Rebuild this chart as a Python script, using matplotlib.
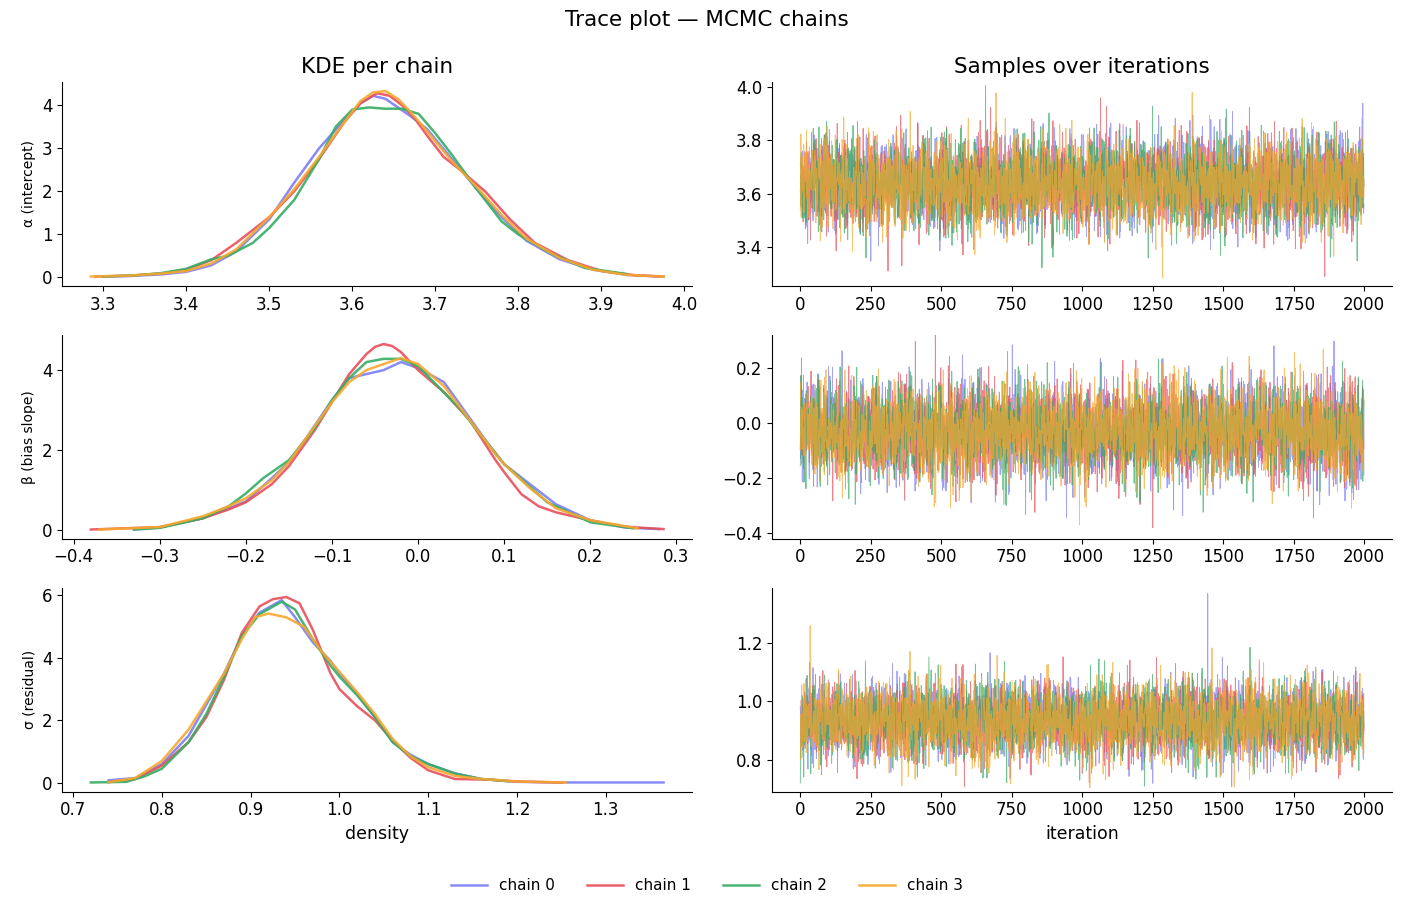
import numpy as np
import matplotlib
matplotlib.use("Agg")
import matplotlib.pyplot as plt

# --- chain colours / labels ---
chain_labels = ["chain 0", "chain 1", "chain 2", "chain 3"]
chain_colors = ["#7b7ff5", "#e8505b", "#36ad64", "#f7a82e"]
param_labels = ["α (intercept)", "β (bias slope)", "σ (residual)"]

# --- KDE curves: (x, density) per chain ---
alpha_kde_x = [
    [3.30, 3.33, 3.37, 3.40, 3.43, 3.46, 3.50, 3.53, 3.56, 3.59, 3.61, 3.625, 3.64, 3.655, 3.67, 3.69, 3.72, 3.75, 3.78, 3.81, 3.85, 3.89, 3.93, 3.97],
    [3.29, 3.33, 3.37, 3.40, 3.43, 3.46, 3.48, 3.50, 3.53, 3.56, 3.59, 3.61, 3.63, 3.645, 3.66, 3.675, 3.69, 3.71, 3.73, 3.76, 3.79, 3.82, 3.86, 3.90, 3.94, 3.975],
    [3.30, 3.34, 3.37, 3.40, 3.43, 3.45, 3.48, 3.50, 3.53, 3.56, 3.58, 3.60, 3.62, 3.64, 3.66, 3.68, 3.70, 3.72, 3.75, 3.78, 3.80, 3.84, 3.88, 3.93],
    [3.285, 3.33, 3.37, 3.40, 3.43, 3.46, 3.50, 3.53, 3.56, 3.59, 3.61, 3.625, 3.64, 3.655, 3.67, 3.69, 3.72, 3.75, 3.78, 3.81, 3.85, 3.89, 3.93, 3.975],
]
alpha_kde_y = [
    [0.02, 0.03, 0.07, 0.13, 0.28, 0.6, 1.35, 2.2, 3.0, 3.65, 4.05, 4.22, 4.15, 3.95, 3.75, 3.45, 2.75, 2.05, 1.4, 0.85, 0.42, 0.18, 0.06, 0.02],
    [0.02, 0.04, 0.09, 0.18, 0.4, 0.8, 1.1, 1.4, 2.0, 2.75, 3.6, 4.05, 4.28, 4.22, 4.0, 3.7, 3.3, 2.8, 2.5, 2.0, 1.35, 0.8, 0.4, 0.15, 0.05, 0.02],
    [0.02, 0.05, 0.1, 0.2, 0.42, 0.5, 0.8, 1.15, 1.8, 2.75, 3.5, 3.9, 3.95, 3.92, 3.92, 3.8, 3.35, 2.85, 2.05, 1.3, 1.0, 0.55, 0.22, 0.08],
    [0.02, 0.04, 0.09, 0.15, 0.32, 0.65, 1.4, 2.05, 2.8, 3.6, 4.1, 4.3, 4.33, 4.15, 3.85, 3.4, 2.7, 2.1, 1.45, 0.9, 0.45, 0.18, 0.06, 0.02],
]

beta_kde_x = [
    [-0.33, -0.30, -0.25, -0.22, -0.20, -0.17, -0.15, -0.13, -0.10, -0.08, -0.06, -0.04, -0.02, 0.00, 0.03, 0.05, 0.08, 0.10, 0.13, 0.16, 0.20, 0.24, 0.28],
    [-0.38, -0.30, -0.25, -0.22, -0.20, -0.17, -0.15, -0.12, -0.10, -0.08, -0.06, -0.05, -0.04, -0.03, -0.02, 0.00, 0.03, 0.06, 0.09, 0.10, 0.12, 0.14, 0.16, 0.20, 0.24, 0.285],
    [-0.33, -0.30, -0.25, -0.22, -0.20, -0.18, -0.16, -0.15, -0.12, -0.10, -0.08, -0.06, -0.04, -0.02, 0.00, 0.05, 0.10, 0.15, 0.20, 0.25],
    [-0.37, -0.30, -0.25, -0.22, -0.20, -0.17, -0.15, -0.13, -0.10, -0.08, -0.06, -0.04, -0.02, 0.00, 0.03, 0.06, 0.09, 0.10, 0.13, 0.16, 0.20, 0.255],
]
beta_kde_y = [
    [0.02, 0.07, 0.3, 0.55, 0.72, 1.3, 1.7, 2.3, 3.25, 3.8, 3.9, 4.0, 4.2, 4.05, 3.7, 3.1, 2.2, 1.65, 1.15, 0.65, 0.25, 0.07, 0.03],
    [0.02, 0.08, 0.3, 0.52, 0.7, 1.15, 1.6, 2.5, 3.2, 3.9, 4.4, 4.58, 4.65, 4.6, 4.45, 4.0, 3.45, 2.75, 1.75, 1.45, 0.9, 0.6, 0.45, 0.25, 0.09, 0.03],
    [0.02, 0.06, 0.3, 0.6, 0.92, 1.3, 1.6, 1.75, 2.55, 3.25, 3.8, 4.2, 4.28, 4.28, 4.1, 3.0, 1.65, 0.7, 0.2, 0.05],
    [0.02, 0.08, 0.35, 0.6, 0.8, 1.25, 1.7, 2.3, 3.2, 3.7, 4.0, 4.15, 4.3, 4.15, 3.6, 2.75, 1.9, 1.65, 1.05, 0.55, 0.25, 0.05],
]

sigma_kde_x = [
    [0.74, 0.77, 0.80, 0.83, 0.85, 0.87, 0.89, 0.91, 0.935, 0.95, 0.97, 0.99, 1.00, 1.02, 1.04, 1.06, 1.08, 1.10, 1.13, 1.16, 1.20, 1.25, 1.30, 1.365],
    [0.74, 0.77, 0.80, 0.83, 0.85, 0.87, 0.89, 0.91, 0.925, 0.94, 0.955, 0.97, 0.99, 1.00, 1.02, 1.04, 1.06, 1.08, 1.10, 1.13, 1.17, 1.20, 1.25],
    [0.72, 0.76, 0.78, 0.80, 0.83, 0.85, 0.87, 0.89, 0.91, 0.935, 0.95, 0.97, 0.99, 1.00, 1.02, 1.04, 1.06, 1.08, 1.10, 1.13, 1.16, 1.19],
    [0.74, 0.77, 0.80, 0.83, 0.85, 0.87, 0.89, 0.905, 0.92, 0.94, 0.96, 0.98, 1.00, 1.02, 1.04, 1.06, 1.08, 1.10, 1.13, 1.16, 1.20, 1.255],
]
sigma_kde_y = [
    [0.08, 0.15, 0.6, 1.5, 2.5, 3.5, 4.7, 5.45, 5.85, 5.3, 4.5, 3.9, 3.5, 2.85, 2.1, 1.3, 0.9, 0.6, 0.3, 0.12, 0.03, 0.01, 0.01, 0.01],
    [0.02, 0.12, 0.55, 1.3, 2.1, 3.3, 4.8, 5.65, 5.88, 5.95, 5.75, 4.9, 3.5, 3.0, 2.45, 2.0, 1.35, 0.8, 0.4, 0.12, 0.1, 0.04, 0.01],
    [0.01, 0.03, 0.2, 0.45, 1.3, 2.2, 3.4, 4.7, 5.4, 5.8, 5.55, 4.6, 3.75, 3.4, 2.8, 2.1, 1.3, 0.85, 0.6, 0.3, 0.12, 0.05],
    [0.02, 0.15, 0.7, 1.7, 2.6, 3.5, 4.6, 5.3, 5.42, 5.3, 5.0, 4.2, 3.55, 2.9, 2.2, 1.4, 0.85, 0.5, 0.22, 0.12, 0.04, 0.01],
]

kde_x = [alpha_kde_x, beta_kde_x, sigma_kde_x]
kde_y = [alpha_kde_y, beta_kde_y, sigma_kde_y]

# --- trace summaries (mean, sd per parameter) ---
n_iter = 2000
trace_mean = [3.64, -0.03, 0.935]
trace_sd = [0.09, 0.09, 0.07]
# visible extremes: (chain, iteration, value)
trace_extremes = [
    [(3, 1390, 3.98), (1, 1860, 3.29), (3, 1285, 3.285), (1, 1065, 3.96), (0, 1995, 3.94)],
    [(1, 1250, 0.285), (1, 1250, -0.38), (3, 990, -0.37), (0, 1680, 0.28)],
    [(0, 1445, 1.37), (3, 35, 1.26), (2, 0, 0.72)],
]
trace_ylim = [(3.255, 4.02), (-0.42, 0.32), (0.69, 1.39)]

# the individual draws can't be read off the picture; they are simulated
# from the read mean/sd with a fixed seed
rng = np.random.default_rng(7)
iters = np.arange(n_iter)

fig, axs = plt.subplots(3, 2, figsize=(14.14, 9.09), dpi=100,
                        gridspec_kw={"width_ratios": [630, 620]})
fig.subplots_adjust(left=0.044, right=0.9845, top=0.91, bottom=0.129,
                    wspace=0.128, hspace=0.24)

for i in range(3):
    ax_k = axs[i, 0]
    ax_t = axs[i, 1]
    for c in range(4):
        ax_k.plot(kde_x[i][c], kde_y[i][c], color=chain_colors[c], lw=1.8,
                  alpha=0.9, label=chain_labels[c])
    for c in range(4):
        draws = trace_mean[i] + trace_sd[i] * rng.standard_normal(n_iter)
        for ch, it, val in trace_extremes[i]:
            if ch == c:
                draws[it] = val
        ax_t.plot(iters, draws, color=chain_colors[c], lw=0.65, alpha=0.7)
    ax_t.set_ylim(*trace_ylim[i])
    ax_k.set_ylabel(param_labels[i], fontsize=10)
    for ax in (ax_k, ax_t):
        ax.spines["top"].set_visible(False)
        ax.spines["right"].set_visible(False)
        ax.tick_params(labelsize=12)
    ax_t.set_xticks([0, 250, 500, 750, 1000, 1250, 1500, 1750, 2000])

axs[0, 0].set_title("KDE per chain", fontsize=15.5)
axs[0, 1].set_title("Samples over iterations", fontsize=15.5)
axs[2, 0].set_xlabel("density", fontsize=12.5)
axs[2, 1].set_xlabel("iteration", fontsize=12.5)
axs[0, 0].set_xticks([3.3, 3.4, 3.5, 3.6, 3.7, 3.8, 3.9, 4.0])
axs[1, 0].set_yticks([0, 2, 4])
axs[2, 0].set_yticks([0, 2, 4, 6])

fig.suptitle("Trace plot — MCMC chains", fontsize=15.5, y=0.989)
handles, labels = axs[0, 0].get_legend_handles_labels()
fig.legend(handles, labels, loc="center", bbox_to_anchor=(0.5, 0.026),
           ncol=4, frameon=False, fontsize=11, handlelength=2.35,
           handletextpad=0.8, columnspacing=2.1)

fig.savefig("out.png", dpi=100)
